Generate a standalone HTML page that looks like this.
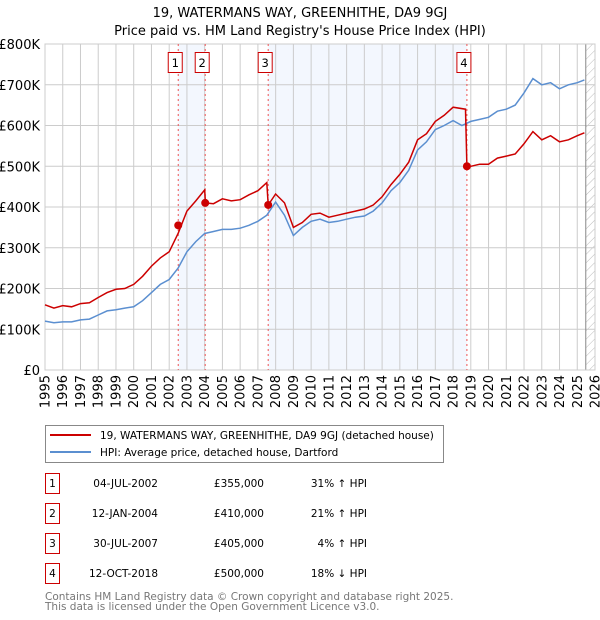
<!DOCTYPE html>
<html><head><meta charset="utf-8"><style>
body{margin:0;background:#fff;font-family:"DejaVu Sans","Liberation Sans",sans-serif}
svg{display:block}
</style></head><body>
<svg id="c" width="600" height="620" font-family="DejaVu Sans, Liberation Sans, sans-serif">
<text x="300" y="17" text-anchor="middle" font-size="13">19, WATERMANS WAY, GREENHITHE, DA9 9GJ</text>
<text x="300" y="35" text-anchor="middle" font-size="13">Price paid vs. HM Land Registry's House Price Index (HPI)</text>
<defs><pattern id="hatch" width="6" height="6" patternUnits="userSpaceOnUse" patternTransform="rotate(45)"><line x1="0" y1="0" x2="0" y2="6" stroke="#bbb" stroke-width="1"/></pattern></defs>
<g id="plot"></g>
<g>
<rect x="45.5" y="425.5" width="398" height="37" fill="#fff" stroke="#888"/>
<line x1="50" y1="435" x2="91" y2="435" stroke="#cc0000" stroke-width="2"/>
<text x="100" y="439" font-size="10.5">19, WATERMANS WAY, GREENHITHE, DA9 9GJ (detached house)</text>
<line x1="50" y1="452" x2="91" y2="452" stroke="#5b8fd0" stroke-width="2"/>
<text x="100" y="456" font-size="10.5">HPI: Average price, detached house, Dartford</text>
</g>
<g id="table" font-size="10.5"></g>
<text x="45" y="600" font-size="10.5" fill="#777">Contains HM Land Registry data © Crown copyright and database right 2025.</text>
<text x="45" y="610" font-size="10.5" fill="#777">This data is licensed under the Open Government Licence v3.0.</text>
</svg>
<script>
const hpiT=[1995,1995.5,1996,1996.5,1997,1997.5,1998,1998.5,1999,1999.5,2000,2000.5,2001,2001.5,2002,2002.5,2003,2003.5,2004,2004.5,2005,2005.5,2006,2006.5,2007,2007.5,2008,2008.5,2009,2009.5,2010,2010.5,2011,2011.5,2012,2012.5,2013,2013.5,2014,2014.5,2015,2015.5,2016,2016.5,2017,2017.5,2018,2018.5,2019,2019.5,2020,2020.5,2021,2021.5,2022,2022.5,2023,2023.5,2024,2024.5,2025,2025.4];
const hpiV=[120,116,118,118,123,125,135,145,148,152,155,170,190,210,222,250,290,315,335,340,345,345,348,355,365,380,412,380,330,350,365,370,362,365,370,375,378,390,410,440,460,490,540,560,590,600,612,600,610,615,620,635,640,650,680,715,700,705,690,700,705,712];
const redT=[1995,1995.5,1996,1996.5,1997,1997.5,1998,1998.5,1999,1999.5,2000,2000.5,2001,2001.5,2002,2002.5,2003,2003.5,2004.0,2004.04,2004.5,2005,2005.5,2006,2006.5,2007,2007.5,2007.58,2008,2008.5,2009,2009.5,2010,2010.5,2011,2011.5,2012,2012.5,2013,2013.5,2014,2014.5,2015,2015.5,2016,2016.5,2017,2017.5,2018,2018.7,2018.78,2019,2019.5,2020,2020.5,2021,2021.5,2022,2022.5,2023,2023.5,2024,2024.5,2025,2025.4];
const redV=[160,152,158,155,163,165,178,190,198,200,210,230,255,275,290,335,390,415,442,410,408,420,415,418,430,440,460,405,432,410,350,362,382,385,375,380,385,390,395,405,425,455,480,510,565,580,610,625,645,640,500,500,505,505,520,525,530,555,585,565,575,560,565,575,582];
const saleLabels=["1","2","3","4"];
const saleT=[2002.51,2004.03,2007.58,2018.78];
const saleV=[355,410,405,500];
const saleDates=["04-JUL-2002","12-JAN-2004","30-JUL-2007","12-OCT-2018"];
const salePrices=["£355,000","£410,000","£405,000","£500,000"];
const salePct=["31% ↑ HPI","21% ↑ HPI","4% ↑ HPI","18% ↓ HPI"];
const yTicks=[0,100,200,300,400,500,600,700,800];
const yTickLabels=["£0","£100K","£200K","£300K","£400K","£500K","£600K","£700K","£800K"];
const xYears=[];for(let y=1995;y<=2026;y++)xYears.push(y);
const X0=45,X1=595,Y0=370,Y1=44;
const sx=t=>X0+(t-1995)/31*(X1-X0);
const sy=v=>Y0-v/800*(Y0-Y1);
const NS="http://www.w3.org/2000/svg";
const g=document.getElementById('plot');
function mk(tag,attrs,parent){const e=document.createElementNS(NS,tag);for(const k in attrs)e.setAttribute(k,attrs[k]);(parent||g).appendChild(e);return e;}
let e;
e=mk('rect',{x:sx(saleT[0]),y:Y1,width:sx(saleT[1])-sx(saleT[0]),height:Y0-Y1,fill:'#eef3fd',opacity:0.7});


e=mk('rect',{x:sx(saleT[2]),y:Y1,width:sx(saleT[3])-sx(saleT[2]),height:Y0-Y1,fill:'#eef3fd',opacity:0.7});


e=mk('rect',{x:sx(2025.48),y:Y1,width:X1-sx(2025.48),height:Y0-Y1,fill:'url(#hatch)'});


xYears.forEach(y=>{
 e=mk('line',{x1:sx(y),x2:sx(y),y1:Y1,y2:Y0,stroke:'#ccc','stroke-width':1});
 
 
 e=mk('text',{x:0,y:0,'font-size':13,'text-anchor':'end',transform:`translate(${sx(y)+4.5},375) rotate(-90)`});
 e.textContent=y;
 
 
});
yTicks.forEach((v,i)=>{
 e=mk('line',{x1:X0,x2:X1,y1:sy(v),y2:sy(v),stroke:'#ccc','stroke-width':1});
 
 
 e=mk('text',{x:X0-5,y:sy(v)+5,'font-size':13,'text-anchor':'end'});
 e.textContent=yTickLabels[i];
 
 
});
e=mk('line',{x1:sx(2025.48),x2:sx(2025.48),y1:Y1,y2:Y0,stroke:'#888','stroke-width':1});


e=mk('rect',{x:X0,y:Y1,width:X1-X0,height:Y0-Y1,fill:'none',stroke:'#ccc'});


saleT.forEach((t,i)=>{
 e=mk('line',{x1:sx(t),x2:sx(t),y1:Y1,y2:Y0,stroke:'#ee5555','stroke-width':1,'stroke-dasharray':'2,3'});
 
 
});
const pts=(T,V)=>T.map((t,i)=>sx(t).toFixed(1)+','+sy(V[i]).toFixed(1)).join(' ');
e=mk('polyline',{points:pts(hpiT,hpiV),fill:'none',stroke:'#5b8fd0','stroke-width':1.5});


e=mk('polyline',{points:pts(redT,redV),fill:'none',stroke:'#cc0000','stroke-width':1.5});


saleT.forEach((t,i)=>{
 e=mk('circle',{cx:sx(t),cy:sy(saleV[i]),r:4,fill:'#cc0000'});
 
 
 const bx=sx(t)-3.5-7;
 e=mk('rect',{x:bx+0.5,y:52.5,width:14,height:20,fill:'#fff',stroke:'#cc0000'});
 
 
 e=mk('text',{x:bx+7.5,y:67,'font-size':11.5,'text-anchor':'middle'});
 e.textContent=saleLabels[i];
 
 
});
const tb=document.getElementById('table');
saleLabels.forEach((l,i)=>{
 const cy=483+i*30;
 e=mk('rect',{x:45.5,y:cy-9.5,width:14,height:20,fill:'#fff',stroke:'#cc0000'},tb);
 
 
 e=mk('text',{x:52.5,y:cy+4,'text-anchor':'middle'},tb);e.textContent=l;
 
 
 e=mk('text',{x:158,y:cy+4,'text-anchor':'end'},tb);e.textContent=saleDates[i];
 
 
 e=mk('text',{x:264,y:cy+4,'text-anchor':'end'},tb);e.textContent=salePrices[i];
 
 
 e=mk('text',{x:367,y:cy+4,'text-anchor':'end'},tb);e.textContent=salePct[i];
 
 
});
</script>
</body></html>
